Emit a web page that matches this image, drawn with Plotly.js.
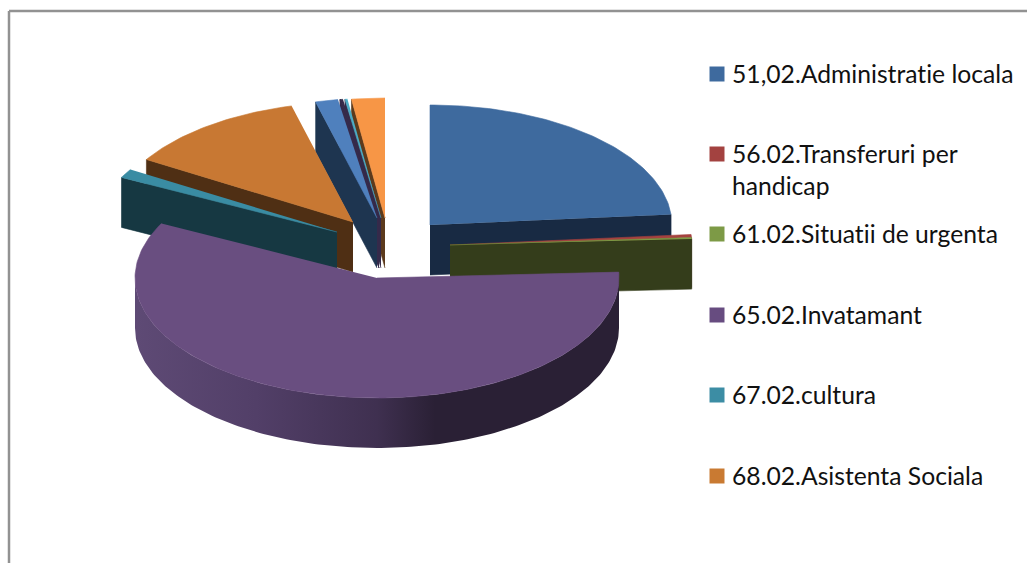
<!DOCTYPE html>
<html><head><meta charset="utf-8">
<script src="https://cdn.plot.ly/plotly-3.0.1.min.js"></script>
<style>html,body{margin:0;padding:0;background:#fff}#c{width:1027px;height:563px}
#c text{font-variant-ligatures:none;font-feature-settings:"liga" 0}</style>
</head><body><div id="c"></div>
<script>
// ---- data (share of budget, %) ----
const legendLabels = ["51,02.Administratie locala","56.02.Transferuri per<br>handicap","61.02.Situatii de urgenta","65.02.Invatamant","67.02.cultura","68.02.Asistenta Sociala"];
const sliceValues = [23.6,0.42,0.2,58.3,1.2,12.2,1.5,0.03,0.03,0.14,0.17,2.21];

// ---- styles ----
const topColors  = ["#3E6A9E","#A5423F","#7F9B45","#694E80","#3A8CA3","#C87833","#4F80BD","#352A4A","#352A4A","#352A4A","#4BACC6","#F79646"];
const wallColors = ["#182A43","#4A1D1C","#343D1B","#2D2238","#163842","#4F2F14","#1E3550","#352A4A","#352A4A","#352A4A","#352A4A","#5C3A1C"];
const legendColors = ["#3E6A9E","#A34240","#7D9A46","#674C80","#3C8DA4","#C97A32"];
// exploded wedge apex for every slice, in the pixel frame of the axes
const apexX = [430,450,450,377,337,353,377,379,379,379,381,385];
const apexY = [225,245,245,278,232,222,218,218,218,218,218,218];
const rx = 242, ry = 120, depth = 50;
const drawOrder = [11,8,7,10,9,6,5,4,0,1,2,3];
const legendX = 717, legendY = [74,154,234,315,395,476], labelX = 732;

const total = sliceValues.reduce((a,b)=>a+b,0);
const rad = d => d*Math.PI/180;
let cum = 0;
const starts = [], ends = [];
sliceValues.forEach(v => { starts.push(cum); cum += v/total*360; ends.push(cum); });

function rim(i, a){ return [apexX[i]+rx*Math.sin(rad(a)), apexY[i]-ry*Math.cos(rad(a))]; }
function arc(i, a0, a1){ const n=Math.max(2,Math.ceil(Math.abs(a1-a0))), p=[];
  for(let k=0;k<=n;k++){ p.push(rim(i,a0+(a1-a0)*k/n)); } return p; }
function poly(pts, color, extra){
  return Object.assign({type:"scatter",mode:"lines",x:pts.map(p=>p[0]),y:pts.map(p=>p[1]),
    fill:"toself",fillcolor:color,line:{width:0.6,color:color},hoverinfo:"skip",showlegend:false}, extra||{});
}
const traces = [];
drawOrder.forEach(i => {
  const s=starts[i], e=ends[i], A=[apexX[i],apexY[i]];
  const radial = a => { const r=rim(i,a); return [A,r,[r[0],r[1]+depth],[A[0],A[1]+depth]]; };
  if(i===3){
    const front = arc(i,Math.max(s,90),Math.min(e,270));
    const back = front.slice().reverse().map(p=>[p[0],p[1]+depth]);
    traces.push(poly(front.concat(back),wallColors[i],{line:{width:0},fillgradient:{type:"horizontal",
      colorscale:[[0,"#5E4A75"],[0.25,"#523F68"],[0.5,"#3F3050"],[0.62,"#2A2035"],[1,"#2A2035"]]}}));
  } else if(s>=180){ traces.push(poly(radial(s),wallColors[i])); }
  else { traces.push(poly(radial(e),wallColors[i])); }
  traces.push(poly([A].concat(arc(i,s,e)),topColors[i]));
});
legendLabels.forEach((l,i)=>{
  traces.push({type:"scatter",mode:"markers",name:l.replace("<br>"," "),x:[legendX],y:[legendY[i]],
    marker:{symbol:"square",size:15,color:legendColors[i]},hoverinfo:"name",showlegend:false});
});
const annotations = legendLabels.map((l,i)=>({xref:"x",yref:"y",x:labelX,y:legendY[i]-17,text:l,
  showarrow:false,xanchor:"left",yanchor:"top",align:"left",xshift:-2,
  font:{family:"Lato, 'Open Sans', sans-serif",size:24.7,color:"#111"}}));
const borderColor="#929292";
const layout = {width:1027,height:563,margin:{l:0,r:0,t:0,b:0},paper_bgcolor:"#fff",plot_bgcolor:"#fff",
  xaxis:{range:[0,1027],visible:false,fixedrange:true},
  yaxis:{range:[563,0],visible:false,fixedrange:true},
  showlegend:false,annotations:annotations,
  shapes:[{type:"line",xref:"x",yref:"y",x0:9,y0:11,x1:1027,y1:11,line:{color:borderColor,width:2.5}},
          {type:"line",xref:"x",yref:"y",x0:9,y0:11,x1:9,y1:563,line:{color:borderColor,width:2.5}}]};
Plotly.newPlot("c",traces,layout,{displayModeBar:false,staticPlot:true});
</script></body></html>
